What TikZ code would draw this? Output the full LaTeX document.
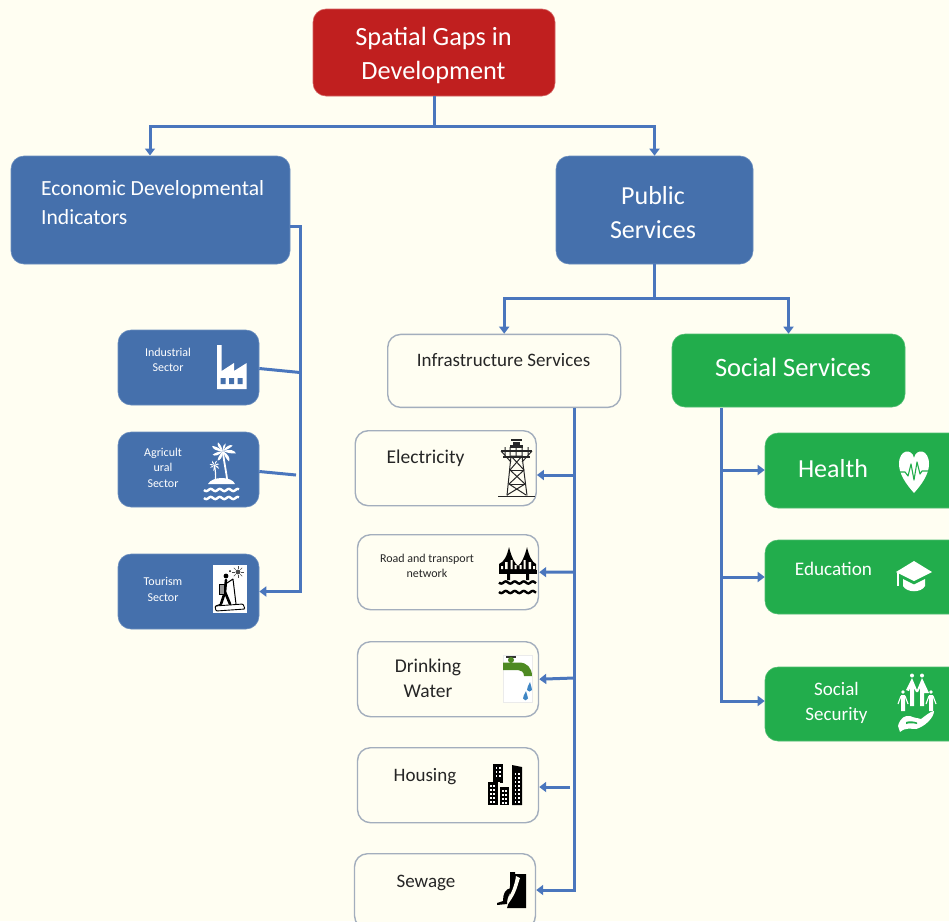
\documentclass[tikz,border=0pt]{standalone}
\usepackage{fontspec}
\setmainfont{Carlito}
\usetikzlibrary{arrows.meta,calc}
\definecolor{bgc}{HTML}{FFFEF2}
\definecolor{redc}{HTML}{C01F1F}
\definecolor{bluec}{HTML}{4570AC}
\definecolor{greenc}{HTML}{22AD4C}
\definecolor{linec}{HTML}{4A76BD}
\definecolor{edgec}{HTML}{A3AEBD}
\definecolor{tapc}{HTML}{4E8A22}
\definecolor{dropc}{HTML}{3F86C4}
\newcommand{\fs}[2]{\fontsize{#1}{#2}\selectfont}
\tikzset{
  x=1pt,y=-1pt,
  basebox/.style={rounded corners=13pt,inner sep=0pt,anchor=north west},
  redbox/.style={basebox,fill=redc,draw=redc!70!white,line width=.6pt},
  bluebox/.style={basebox,fill=bluec,draw=bluec!80!white,line width=.6pt},
  greenbox/.style={basebox,fill=greenc,draw=greenc!80!white,line width=.6pt},
  linebox/.style={basebox,fill=bgc,draw=edgec,line width=1.4pt},
  wtext/.style={text=white,align=center,inner sep=0pt},
  ktext/.style={text=black!85,align=center,inner sep=0pt},
  conn/.style={draw=linec,line width=3pt},
  arr/.style={conn,-{Triangle[length=7pt,width=10pt]}},
}
% leaf fan: centre, list of angle/length
\newcommand{\fronds}[2]{%
  \foreach \a/\l in {#2}{%
    \fill[white] (#1) .. controls ($(#1)+(\a-28:\l*.55)$) and ($(#1)+(\a-14:\l*.9)$) .. ($(#1)+(\a:\l)$)
      .. controls ($(#1)+(\a+8:\l*.75)$) and ($(#1)+(\a+14:\l*.35)$) .. (#1) -- cycle;}}
\begin{document}
\begin{tikzpicture}
\path[use as bounding box,fill=bgc] (0,0) rectangle (949,921);
\clip (0,0) rectangle (949,921);

% boxes
\node[redbox,minimum width=242pt,minimum height=87pt] (title) at (312.7,8.7) {};
\node[bluebox,minimum width=279pt,minimum height=108pt] (econ) at (10.7,155.7) {};
\node[bluebox,minimum width=197pt,minimum height=108pt] (public) at (555.7,155.7) {};
\node[bluebox,minimum width=141pt,minimum height=75pt] (ind) at (117.7,329.7) {};
\node[bluebox,minimum width=141pt,minimum height=75pt] (agr) at (117.7,431.7) {};
\node[bluebox,minimum width=141pt,minimum height=75pt] (tour) at (117.7,553.7) {};
\node[linebox,minimum width=233pt,minimum height=73pt] (infra) at (387,333.7) {};
\node[greenbox,minimum width=233pt,minimum height=73pt] (social) at (671.7,333.7) {};
\node[linebox,minimum width=181pt,minimum height=75pt] (elec) at (354.5,430) {};
\node[linebox,minimum width=181pt,minimum height=75pt] (road) at (356.8,534) {};
\node[linebox,minimum width=181pt,minimum height=75pt] (water) at (356.8,641) {};
\node[linebox,minimum width=181pt,minimum height=75pt] (house) at (356.8,747) {};
\node[linebox,minimum width=181pt,minimum height=75pt] (sew) at (353.8,853) {};
\node[greenbox,minimum width=200pt,minimum height=75pt] (health) at (764.7,432.7) {};
\node[greenbox,minimum width=200pt,minimum height=74pt] (edu) at (764.7,539.7) {};
\node[greenbox,minimum width=200pt,minimum height=74pt] (secu) at (764.7,666.7) {};

% texts
\node[wtext,font=\fs{26.3}{34}] (ttitle) at (433.5,55.5) {Spatial Gaps in\\Development};
\node[wtext,align=left,anchor=west,font=\fs{21.6}{29}] (tecon) at (41,203) {Economic Developmental\\Indicators};
\node[wtext,font=\fs{26}{34}] (tpublic) at (653,212.5) {Public\\Services};
\node[wtext,font=\fs{12}{15.5}] (tind) at (168,360) {Industrial\\Sector};
\node[wtext,font=\fs{12}{15.5}] (tagr) at (163,467.5) {Agricult\\ural\\Sector};
\node[wtext,font=\fs{12}{15.5}] (ttour) at (163,589.5) {Tourism\\Sector};
\node[ktext,font=\fs{19}{24}] (tinfra) at (503.5,360.5) {Infrastructure Services};
\node[wtext,font=\fs{26.5}{30}] (tsocial) at (793,367) {Social Services};
\node[ktext,font=\fs{19.5}{24}] (telec) at (425.5,458.5) {Electricity};
\node[ktext,font=\fs{12}{15.5}] (troad) at (427,566) {Road and transport\\network};
\node[ktext,font=\fs{19.5}{25}] (twater) at (428,678) {Drinking\\Water};
\node[ktext,font=\fs{19}{24}] (thouse) at (425,777) {Housing};
\node[ktext,font=\fs{19}{24}] (tsew) at (426,883) {Sewage};
\node[wtext,font=\fs{26}{30}] (thealth) at (833,468.5) {Health};
\node[wtext,font=\fs{19.2}{24}] (tedu) at (833.5,569) {Education};
\node[wtext,font=\fs{19}{25}] (tsecu) at (836.5,703) {Social\\Security};

% junctions
\coordinate (j1) at (434,126);
\coordinate (j2) at (654.5,298);
\coordinate (etr) at (300,226);
\coordinate (itr) at (574,408);
\coordinate (str) at (721.5,408);

% connectors
\draw[conn] (title.south -| j1) -- (j1);
\draw[arr] (j1) -- (150,126) -- (150,155.5);
\draw[arr] (j1) -- (public.north |- j1) -- (public.north);
\draw[conn] (public.south -| j2) -- (j2);
\draw[arr] (j2) -- (infra.north |- j2) -- (infra.north);
\draw[arr] (j2) -- (social.north |- j2) -- (social.north);
\draw[arr] (econ.east |- etr) -- (etr) -- (etr |- tour.east) -- (tour.east);
\draw[conn] ($(ind.east)+(0,1)$) -- ($(etr |- ind.east)+(0,5)$);
\draw[conn] ($(agr.east)+(0,2)$) -- (296,475);
\draw[arr] (itr) -- (574,890) -- (sew.east |- 574,890);
\draw[arr] (574,475) -- (elec.east |- 574,475);
\draw[arr] (574,572) -- (road.east);
\draw[arr] (574,678) -- (water.east);
\draw[arr] (570,787) -- (house.east |- 570,787);
\draw[arr] (str) -- (721.5,701) -- (secu.west |- 721.5,701);
\draw[arr] (721.5,470) -- (health.west |- 721.5,470);
\draw[arr] (721.5,577) -- (edu.west);

% factory icon
\fill[white] (217,345) -- (221.7,345) -- (221.7,371) -- (234,363) -- (234,371) -- (246.7,363) -- (246.7,389) -- (217,389) -- cycle;
\fill[bluec] (220.7,378) rectangle (225.7,384) (229,378) rectangle (234,384) (237.7,378) rectangle (242.7,384);

% palm island icon
\begin{scope}[white]
\fill (208,484) .. controls (212,476) and (232,476) .. (235,484) -- cycle;
\draw[line width=1.8pt] (223,452) .. controls (224,462) and (226,470) .. (227,479);
\draw[line width=1.2pt] (214.5,465) .. controls (215,469) and (216,474) .. (215.5,480);
\fronds{223,451}{205/12,240/10,290/8,330/11,10/13,60/12,120/11,160/11}
\fronds{214.5,465}{190/5,240/5,300/5,350/5,40/6,100/6,150/5}
\draw[line width=2.4pt] plot[domain=204:239,samples=50] (\x,{490+1.1*sin(40*(\x-204))});
\draw[line width=2.4pt] plot[domain=204:239,samples=50] (\x,{498+1.1*sin(40*(\x-204))});
\end{scope}

% hiker icon
\fill[white] (213,565) rectangle (246.5,613);
\begin{scope}[black]
\fill (226,576) circle[radius=2.4];
\draw[line width=2.6pt,line cap=round] (226,580) -- (225,592) (225,592) -- (221,604) (225,592) -- (230,604);
\draw[line width=.8pt,fill=white!60!black] (219,584) rectangle (224,594);
\draw[line width=1pt] (227,583) -- (233,579) (233,579) -- (236,604) (221,604) -- (216,606);
\draw[line width=.9pt,rounded corners=1pt] (215,606) -- (243,604) -- (245,609) -- (216,611) -- cycle;
\fill[black!70] (238,572) circle[radius=2.4];
\foreach \a in {0,45,...,315}{\draw[line width=.6pt,black!70] ($(238,572)+(\a:3.2)$) -- ($(238,572)+(\a:6)$);}
\fill (230,571) circle[radius=1];
\end{scope}

% pylon icon
\begin{scope}[black!85,line width=1pt]
\draw[line width=1.3pt] (498,496.5) -- (535,496.5);
\draw (507,495.5) -- (511,456) -- (522,456) -- (527,495.5);
\draw (511,456) -- (524,470) -- (509,484) -- (526,495) (522,456) -- (510,470) -- (525,484) -- (507,495);
\draw (510,470) -- (524,470) (509,484) -- (525,484);
\draw[line width=1.2pt] (501,451) -- (532,451) (503,457) -- (530,457);
\draw (501,451) -- (511,462) (532,451) -- (522,462) (505,447) -- (505,457) (510,447) -- (510,457) (516,447) -- (516,457) (522,447) -- (522,457) (528,447) -- (528,457);
\fill (510,445) rectangle (523,447.5);
\fill (513,442) rectangle (520,445);
\draw[line width=1.2pt] (511,440) -- (522,440);
\end{scope}

% bridge icon
\begin{scope}[black]
\fill (499,572) -- (499,564) .. controls (504,562) and (507,556) .. (509,547) .. controls (511,556) and (515,564) .. (518,566) .. controls (521,564) and (525,556) .. (527,547) .. controls (529,556) and (532,562) .. (536,564) -- (536,572) -- cycle;
\fill[bgc] (501,566) rectangle (503,569) (505,562) rectangle (507.5,569) (510.5,560) rectangle (512.5,569) (514.5,565) rectangle (516.5,569) (519.5,565) rectangle (521.5,569) (523.5,560) rectangle (525.5,569) (528.5,562) rectangle (531,569) (533,566) rectangle (535,569);
\fill (498.5,569.5) rectangle (536.5,573.5);
\fill (507,573) rectangle (510,580) (526,573) rectangle (529,580);
\draw[line width=2.4pt] plot[domain=499:536,samples=50] (\x,{582.5+1.1*sin(40*(\x-499))});
\draw[line width=2.4pt] plot[domain=499:536,samples=50] (\x,{592+1.1*sin(40*(\x-499))});
\end{scope}

% tap icon
\fill[white] (503,655) rectangle (532,702);
\draw[black!8,line width=.4pt] (503,655) rectangle (532,702);
\fill[black!80] (506,655.5) rectangle (516,658);
\fill[black!80] (510,658) rectangle (512,662);
\fill[tapc] (511,660) circle[radius=3];
\fill[tapc] (503,662.5) -- (519,662.5) .. controls (527,662.5) and (532,668) .. (532,676) -- (524,676) .. controls (524,672) and (521,670) .. (518,670) -- (503,670) -- cycle;
\fill[dropc] (530,682) .. controls (528,686) and (527,688) .. (527,690) .. controls (528,692) and (531,692) .. (532,690) .. controls (532,688) and (531,686) .. (530,682) -- cycle;
\fill[dropc] (526,691) .. controls (524,695) and (523,697) .. (523,698.5) .. controls (524,701) and (527,701) .. (528,698.5) .. controls (528,697) and (527,695) .. (526,691) -- cycle;

% buildings icon
\fill[black] (493,764) rectangle (503,783);
\fill[black] (488,782) rectangle (498,805);
\fill[black] (500,787) rectangle (509,805);
\fill[black] (512,765) -- (522,767) -- (522,805) -- (512,805) -- cycle;
\fill[bgc] (498,782) rectangle (500,787);
\foreach \xx in {0,3.2}{
  \foreach \yy in {0,4,8}{\fill[white] ($(495.5,767)+(\xx,\yy)$) rectangle +(1.8,2.2);}
  \foreach \yy in {0,4,8,12,16}{\fill[white] ($(490,785)+(\xx,\yy)$) rectangle +(1.8,2.2);
    \fill[white] ($(514.5,785)+(\xx,\yy-12)$) rectangle +(1.8,2.2);
    \fill[white] ($(514.5,785)+(\xx,\yy)$) rectangle +(1.8,2.2);}
  \foreach \yy in {0,4,8,12}{\fill[white] ($(502,790)+(\xx,\yy)$) rectangle +(1.8,2.2);}
}

% sewage icon
\fill[black] (510,872) -- (510,886) .. controls (508,893) and (512,893) .. (507,908) -- (526,908) -- (526,874) -- (515,874) -- (515,872) -- cycle;
\fill[bgc] (520,878) .. controls (517,886) and (517,892) .. (508,904) -- (506,900) .. controls (511,896) and (515,884) .. (516,876) -- cycle;
\fill[black] (511,888) .. controls (505,889) and (503,894) .. (503,901) -- (497,903) -- (497,905) -- (507,904) .. controls (507,896) and (511,892) .. (512,888) -- cycle;

% heart icon
\fill[white] (914,493) .. controls (906,484) and (899,474) .. (899,464) .. controls (899,449) and (912,448) .. (914,458) .. controls (916,448) and (929,449) .. (929,464) .. controls (929,474) and (922,484) .. (914,493) -- cycle;
\draw[greenc,line width=1.1pt,line join=round] (899,472) -- (905,472) -- (908,476) -- (911,464) -- (914,480) -- (917,462) -- (920,474) -- (922,471) -- (929,471);

% graduation cap icon
\fill[white] (914,561) -- (932,572) -- (914,581) -- (896,572) -- cycle;
\fill[white] (903,579) -- (914,584.5) -- (925,579) -- (925,586) .. controls (921,593) and (907,593) .. (903,586) -- cycle;
\fill[white] (897,573) rectangle (898.8,586);

% family in hand icon
\begin{scope}[white]
\fill (912,675.5) circle[radius=2] (922,675.5) circle[radius=2];
\fill (912,678) -- (906,690) -- (909,691) -- (910,688) -- (910,706) -- (914,706) -- (914,688) -- (916,692) -- (918,692) -- (920,688) -- (920,706) -- (924,706) -- (924,693) -- (929,693) -- (922,678) -- (917,690) -- cycle;
\fill (903,692) circle[radius=1.8] (931,692) circle[radius=1.8];
\fill (901,695) rectangle (905,711) (929,695) rectangle (933,711);
\draw[line width=1.1pt] (898,704) -- (901,696) (908,704) -- (905,696) (926,704) -- (929,696) (936,704) -- (933,696);
\fill (898,726) .. controls (900,718) and (905,715) .. (910,716) .. controls (914,718) and (918,718) .. (921,719) .. controls (925,716) and (931,711) .. (934,711) .. controls (934,718) and (924,727) .. (916,729) .. controls (911,729) and (906,727) .. (900,732) -- cycle;
\fill[greenc] (906,722) .. controls (909,721) and (913,721) .. (917,722.5) -- (917,724) .. controls (913,723) and (909,723) .. (906,724) -- cycle;
\end{scope}
\end{tikzpicture}
\end{document}
